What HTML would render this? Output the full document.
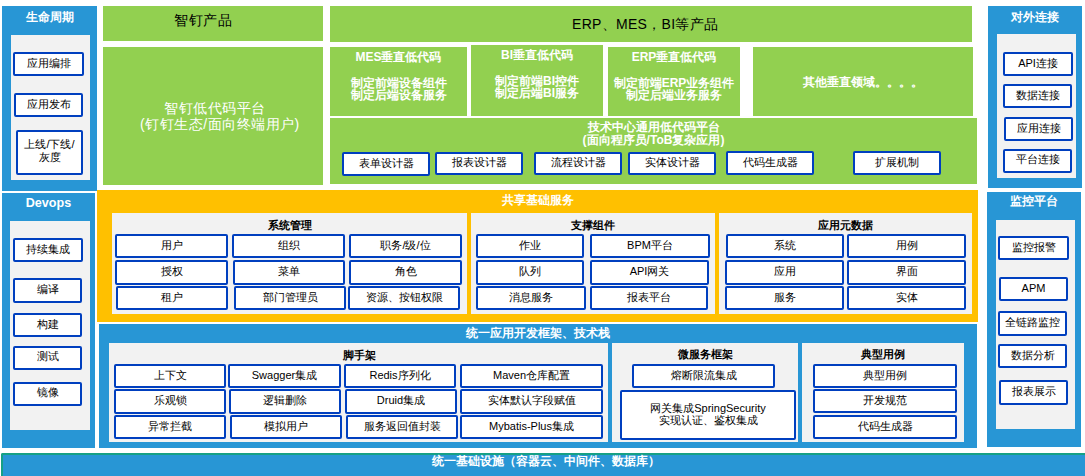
<!DOCTYPE html>
<html><head><meta charset="utf-8"><title>architecture</title><style>
html,body{margin:0;padding:0;}
body{width:1085px;height:476px;position:relative;overflow:hidden;background:#fff;font-family:"Liberation Sans",sans-serif;}
.r,.t,.h,.g,.gw,.st,.b{position:absolute;box-sizing:border-box;}
.h{color:#fff;font-weight:bold;font-size:12px;text-align:center;line-height:16px;white-space:nowrap;}
.st{color:#000;font-weight:bold;font-size:11px;text-align:center;line-height:15px;white-space:nowrap;}
.g{text-align:center;white-space:nowrap;}
.gw{color:#fff;font-weight:bold;font-size:12px;text-align:center;line-height:13px;padding-top:4px;white-space:nowrap;}
.b{background:#fff;border:2px solid #003FBF;border-radius:2px;color:#000;font-size:11px;text-align:center;white-space:nowrap;}
</style></head>
<body>
<div class="r" style="left:2px;top:6px;width:95px;height:185px;background:#2896D5;"></div>
<div class="h" style="left:2px;top:9px;width:95px;height:16px;">生命周期</div>
<div class="r" style="left:11px;top:35px;width:79px;height:145px;background:#F2F2F2;"></div>
<div class="b" style="left:13px;top:52px;width:71px;height:24px;line-height:18px;">应用编排</div>
<div class="b" style="left:14px;top:93px;width:69px;height:24px;line-height:18px;">应用发布</div>
<div class="b" style="left:16px;top:130px;width:67px;height:45px;line-height:12.5px;padding-top:6px;box-sizing:border-box">上线/下线/<br>灰度</div>
<div class="r" style="left:103px;top:6px;width:220px;height:35px;background:#92D050;"></div>
<div class="g" style="left:174px;top:3px;width:66px;height:35px;font-size:14px;line-height:35px;color:#000;text-align:left;letter-spacing:0.7px">智钉产品</div>
<div class="r" style="left:103px;top:47px;width:220px;height:138px;background:#92D050;"></div>
<div class="g" style="left:164px;top:100px;width:136px;height:17px;font-size:14px;line-height:17px;color:#fff;text-align:left;letter-spacing:0.55px">智钉低代码平台</div>
<div class="g" style="left:140px;top:116px;width:180px;height:17px;font-size:14px;line-height:17px;color:#fff;text-align:left;letter-spacing:0.5px">(钉钉生态/面向终端用户)</div>
<div class="r" style="left:330px;top:6px;width:642px;height:36px;background:#92D050;"></div>
<div class="g" style="left:572px;top:6px;width:158px;height:36px;font-size:14px;line-height:36px;color:#000;text-align:left;letter-spacing:0.3px">ERP、MES，BI等产品</div>
<div class="r" style="left:330px;top:47px;width:137px;height:69px;background:#92D050;"></div>
<div class="gw" style="left:330px;top:47px;width:137px;height:69px;">MES垂直低代码</div>
<div class="gw" style="left:330px;top:74px;width:137px;height:42px;line-height:11.5px">制定前端设备组件<br>制定后端设备服务</div>
<div class="r" style="left:471px;top:45px;width:132px;height:71px;background:#92D050;"></div>
<div class="gw" style="left:471px;top:45px;width:132px;height:71px;">BI垂直低代码</div>
<div class="gw" style="left:471px;top:72px;width:132px;height:44px;line-height:11.5px">制定前端BI控件<br>制定后端BI服务</div>
<div class="r" style="left:608px;top:47px;width:132px;height:69px;background:#92D050;"></div>
<div class="gw" style="left:608px;top:47px;width:132px;height:69px;">ERP垂直低代码</div>
<div class="gw" style="left:608px;top:74px;width:132px;height:42px;line-height:11.5px">制定前端ERP业务组件<br>制定后端业务服务</div>
<div class="r" style="left:753px;top:47px;width:220px;height:69px;background:#92D050;"></div>
<div class="gw" style="left:753px;top:47px;width:220px;height:69px;line-height:71px;padding-top:0">其他垂直领域。。。。</div>
<div class="r" style="left:330px;top:118px;width:647px;height:66px;background:#92D050;"></div>
<div class="gw" style="left:330px;top:121px;width:647px;height:30px;padding-top:0;text-align:center;padding-left:0">技术中心通用低代码平台<br>(面向程序员/ToB复杂应用)</div>
<div class="b" style="left:342px;top:152px;width:88px;height:24px;line-height:18px;">表单设计器</div>
<div class="b" style="left:435px;top:152px;width:88px;height:23px;line-height:17px;">报表设计器</div>
<div class="b" style="left:534px;top:152px;width:88px;height:23px;line-height:17px;">流程设计器</div>
<div class="b" style="left:628px;top:152px;width:88px;height:23px;line-height:17px;">实体设计器</div>
<div class="b" style="left:726px;top:151px;width:88px;height:24px;line-height:18px;">代码生成器</div>
<div class="b" style="left:853px;top:151px;width:88px;height:24px;line-height:18px;">扩展机制</div>
<div class="r" style="left:988px;top:6px;width:94px;height:182px;background:#2896D5;"></div>
<div class="h" style="left:988px;top:9px;width:94px;height:16px;">对外连接</div>
<div class="r" style="left:997px;top:34px;width:79px;height:144px;background:#F2F2F2;"></div>
<div class="b" style="left:1003px;top:52px;width:70px;height:24px;line-height:18px;">API连接</div>
<div class="b" style="left:1003px;top:84px;width:69px;height:24px;line-height:18px;">数据连接</div>
<div class="b" style="left:1004px;top:117px;width:69px;height:24px;line-height:18px;">应用连接</div>
<div class="b" style="left:1003px;top:149px;width:69px;height:24px;line-height:18px;line-height:16px">平台连接</div>
<div class="r" style="left:2px;top:193px;width:93px;height:255px;background:#2896D5;"></div>
<div class="h" style="left:2px;top:195px;width:93px;height:16px;font-size:12.6px">Devops</div>
<div class="r" style="left:10px;top:221px;width:80px;height:209px;background:#F2F2F2;"></div>
<div class="b" style="left:13px;top:238px;width:70px;height:24px;line-height:18px;">持续集成</div>
<div class="b" style="left:13px;top:278px;width:69px;height:25px;line-height:19px;">编译</div>
<div class="b" style="left:13px;top:313px;width:69px;height:24px;line-height:18px;">构建</div>
<div class="b" style="left:13px;top:346px;width:69px;height:24px;line-height:18px;line-height:16px">测试</div>
<div class="b" style="left:13px;top:382px;width:69px;height:24px;line-height:18px;line-height:16px">镜像</div>
<div class="r" style="left:97px;top:190px;width:881px;height:132px;background:#FFC000;"></div>
<div class="h" style="left:97px;top:192px;width:881px;height:16px;">共享基础服务</div>
<div class="r" style="left:112px;top:213px;width:355px;height:101px;background:#F2F2F2;"></div>
<div class="st" style="left:112px;top:218px;width:355px;height:15px;">系统管理</div>
<div class="b" style="left:115px;top:234px;width:113px;height:24px;line-height:18px;">用户</div>
<div class="b" style="left:232px;top:234px;width:113px;height:24px;line-height:18px;">组织</div>
<div class="b" style="left:349px;top:234px;width:113px;height:24px;line-height:18px;">职务/级/位</div>
<div class="b" style="left:115px;top:260px;width:113px;height:25px;line-height:19px;">授权</div>
<div class="b" style="left:233px;top:260px;width:112px;height:25px;line-height:19px;">菜单</div>
<div class="b" style="left:349px;top:260px;width:113px;height:25px;line-height:19px;">角色</div>
<div class="b" style="left:116px;top:286px;width:112px;height:24px;line-height:18px;">租户</div>
<div class="b" style="left:234px;top:286px;width:112px;height:24px;line-height:18px;">部门管理员</div>
<div class="b" style="left:348px;top:286px;width:112px;height:24px;line-height:18px;">资源、按钮权限</div>
<div class="r" style="left:471px;top:213px;width:244px;height:101px;background:#F2F2F2;"></div>
<div class="st" style="left:471px;top:218px;width:244px;height:15px;">支撑组件</div>
<div class="b" style="left:476px;top:234px;width:108px;height:24px;line-height:18px;">作业</div>
<div class="b" style="left:590px;top:234px;width:120px;height:24px;line-height:18px;">BPM平台</div>
<div class="b" style="left:476px;top:260px;width:108px;height:25px;line-height:19px;">队列</div>
<div class="b" style="left:590px;top:260px;width:119px;height:25px;line-height:19px;">API网关</div>
<div class="b" style="left:476px;top:286px;width:110px;height:24px;line-height:18px;">消息服务</div>
<div class="b" style="left:590px;top:286px;width:118px;height:24px;line-height:18px;">报表平台</div>
<div class="r" style="left:719px;top:213px;width:253px;height:101px;background:#F2F2F2;"></div>
<div class="st" style="left:719px;top:218px;width:253px;height:15px;">应用元数据</div>
<div class="b" style="left:726px;top:234px;width:118px;height:24px;line-height:18px;">系统</div>
<div class="b" style="left:847px;top:234px;width:119px;height:24px;line-height:18px;">用例</div>
<div class="b" style="left:725px;top:260px;width:119px;height:25px;line-height:19px;">应用</div>
<div class="b" style="left:847px;top:260px;width:119px;height:25px;line-height:19px;">界面</div>
<div class="b" style="left:725px;top:286px;width:119px;height:24px;line-height:18px;">服务</div>
<div class="b" style="left:847px;top:286px;width:119px;height:24px;line-height:18px;">实体</div>
<div class="r" style="left:99px;top:324px;width:878px;height:124px;background:#2896D5;"></div>
<div class="h" style="left:99px;top:325px;width:878px;height:16px;">统一应用开发框架、技术栈</div>
<div class="r" style="left:109px;top:343px;width:499px;height:99px;background:#F2F2F2;"></div>
<div class="st" style="left:110px;top:348px;width:499px;height:15px;">脚手架</div>
<div class="b" style="left:114px;top:364px;width:112px;height:24px;line-height:18px;">上下文</div>
<div class="b" style="left:228px;top:364px;width:113px;height:24px;line-height:18px;">Swagger集成</div>
<div class="b" style="left:344px;top:364px;width:112px;height:24px;line-height:18px;">Redis序列化</div>
<div class="b" style="left:460px;top:364px;width:143px;height:24px;line-height:18px;">Maven仓库配置</div>
<div class="b" style="left:114px;top:389px;width:112px;height:25px;line-height:19px;">乐观锁</div>
<div class="b" style="left:229px;top:389px;width:112px;height:25px;line-height:19px;">逻辑删除</div>
<div class="b" style="left:345px;top:389px;width:112px;height:25px;line-height:19px;">Druid集成</div>
<div class="b" style="left:460px;top:389px;width:143px;height:25px;line-height:19px;">实体默认字段赋值</div>
<div class="b" style="left:114px;top:415px;width:112px;height:24px;line-height:18px;">异常拦截</div>
<div class="b" style="left:230px;top:415px;width:112px;height:24px;line-height:18px;">模拟用户</div>
<div class="b" style="left:346px;top:415px;width:112px;height:24px;line-height:18px;">服务返回值封装</div>
<div class="b" style="left:460px;top:415px;width:143px;height:24px;line-height:18px;">Mybatis-Plus集成</div>
<div class="r" style="left:612px;top:343px;width:186px;height:99px;background:#F2F2F2;"></div>
<div class="st" style="left:612px;top:347px;width:186px;height:15px;">微服务框架</div>
<div class="b" style="left:632px;top:364px;width:143px;height:24px;line-height:18px;">熔断限流集成</div>
<div class="b" style="left:620px;top:390px;width:176px;height:50px;line-height:11.5px;padding-top:11px;box-sizing:border-box">网关集成SpringSecurity<br>实现认证、鉴权集成</div>
<div class="r" style="left:802px;top:343px;width:162px;height:99px;background:#F2F2F2;"></div>
<div class="st" style="left:802px;top:347px;width:162px;height:15px;">典型用例</div>
<div class="b" style="left:813px;top:364px;width:144px;height:24px;line-height:18px;">典型用例</div>
<div class="b" style="left:813px;top:389px;width:144px;height:24px;line-height:18px;">开发规范</div>
<div class="b" style="left:813px;top:415px;width:144px;height:24px;line-height:18px;">代码生成器</div>
<div class="r" style="left:987px;top:192px;width:94px;height:255px;background:#2896D5;"></div>
<div class="h" style="left:987px;top:193px;width:94px;height:16px;">监控平台</div>
<div class="r" style="left:996px;top:220px;width:79px;height:209px;background:#F2F2F2;"></div>
<div class="b" style="left:998px;top:236px;width:71px;height:24px;line-height:18px;">监控报警</div>
<div class="b" style="left:999px;top:277px;width:69px;height:24px;line-height:18px;">APM</div>
<div class="b" style="left:998px;top:311px;width:69px;height:25px;line-height:19px;">全链路监控</div>
<div class="b" style="left:998px;top:344px;width:69px;height:24px;line-height:18px;">数据分析</div>
<div class="b" style="left:999px;top:380px;width:69px;height:25px;line-height:19px;">报表展示</div>
<div class="r" style="left:1px;top:453px;width:1084px;height:23px;background:#2896D5;border-top:2px solid #16A085;border-left:2px solid #16A085;box-sizing:border-box;border-top-left-radius:2px"></div>
<div class="h" style="left:6px;top:453px;width:1079px;height:23px;line-height:16px">统一基础设施（容器云、中间件、数据库）</div>
</body></html>
